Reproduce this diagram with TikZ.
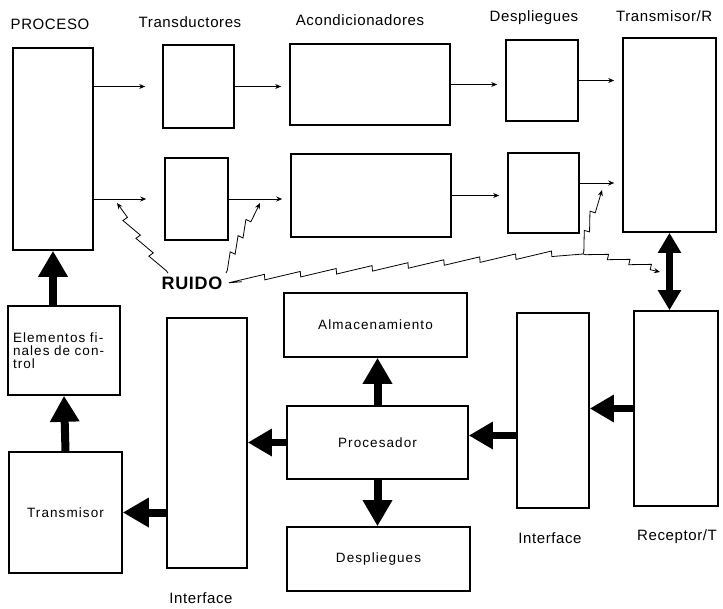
\documentclass[tikz,border=0pt]{standalone}
\usepackage{fontspec}
\setmainfont{Liberation Sans}[LetterSpace=4]
\newfontfamily\boxfamily{Liberation Sans}[LetterSpace=8]
\usepackage{tikz}
\usetikzlibrary{arrows.meta,decorations.pathmorphing}
\newcommand{\lblfont}{\fontsize{15}{17}\selectfont}
\newcommand{\boxfont}{\boxfamily\fontsize{13.5}{12.8}\selectfont}
\newcommand{\noisefont}{\fontsize{18}{20}\selectfont\bfseries}

\begin{document}
\begin{tikzpicture}[x=1pt,y=-1pt,
	box/.style={draw,line width=1.6pt,inner sep=0pt,font=\boxfont},
	lbl/.style={font=\lblfont,inner sep=1pt},
	flow/.style={line width=0.9pt,-{Stealth[length=6pt,width=5pt]},shorten >=8pt},
	bigarrow/.style={line width=8pt,-{Triangle[length=26pt,width=28pt]}},
	noise/.style={line width=0.8pt,decorate,decoration={saw,segment length=#1,amplitude=5.5pt,pre length=3pt,post length=10pt}},
	noise/.default=20pt]
	\useasboundingbox (0,0) rectangle (723,608);
	% top row labels
	\node[lbl] (lproceso) at (50,24) {PROCESO};
	\node[lbl] (ltrans) at (190,22) {Transductores};
	\node[lbl] (lacond) at (360,20) {Acondicionadores};
	\node[lbl] (ldesp) at (534,18) {Despliegues};
	\node[lbl,anchor=west] (ltr) at (615,16) {Transmisor/R};
	% measuring chain
	\node[box,minimum width=80,minimum height=202] (proceso) at (53,149) {};
	\node[box,minimum width=71,minimum height=83] (t1) at (198.5,86.5) {};
	\node[box,minimum width=63,minimum height=82] (t2) at (196.5,199) {};
	\node[box,minimum width=160,minimum height=81] (a1) at (370,84.5) {};
	\node[box,minimum width=160,minimum height=83] (a2) at (371,195.5) {};
	\node[box,minimum width=72,minimum height=81] (d1) at (542,80.5) {};
	\node[box,minimum width=71,minimum height=80] (d2) at (543.5,193) {};
	\node[box,minimum width=93,minimum height=194] (tr) at (669.5,135) {};
	% control side
	\node[box,minimum width=112,minimum height=89,text width=102pt,align=left] (elem) at (64,350.5) {Elementos fi-\\nales de con-\\trol};
	\node[box,minimum width=113,minimum height=121] (tx) at (65.5,512.5) {Transmisor\hspace{12pt}};
	\node[box,minimum width=80,minimum height=250] (ifl) at (207,443) {};
	\node[box,minimum width=183,minimum height=64] (alm) at (375.5,325) {Almacenamiento\hspace{24pt}};
	\node[box,minimum width=181,minimum height=73] (proc) at (377.5,442.5) {Procesador\hspace{20pt}};
	\node[box,minimum width=183,minimum height=64] (desp) at (378.5,559) {Despliegues\hspace{14pt}};
	\node[box,minimum width=72,minimum height=195] (ifr) at (553,410.5) {};
	\node[box,minimum width=84,minimum height=195] (rec) at (676,408.5) {};
	\node[lbl] (lifl) at (201,598) {Interface};
	\node[lbl] (lifr) at (550,538) {Interface};
	\node[lbl,anchor=west] (lrec) at (636,537) {Receptor/T};
	% noise
	\node[font=\noisefont] (ruido) at (192,283) {RUIDO};
	\coordinate (r1) at (117,203);
	\coordinate (r2) at (260,203);
	\coordinate (rb) at (583,254);
	\coordinate (r3) at (660,272);
	\coordinate (r4) at (602,190);

	\path[flow]
	(t1.west -| proceso.east) edge [shorten >=17pt] (t1.west)
	(t2.west -| proceso.east) edge [shorten >=18pt] (t2.west)
	(t1.east) edge (t1.east -| a1.west)
	(t2.east) edge (t2.east -| a2.west)
	(a1.east) edge (a1.east -| d1.west)
	(a2.east) edge (a2.east -| d2.west)
	(d1.east) edge (d1.east -| tr.west)
	([yshift=10pt]d2.east) edge ([yshift=10pt]d2.east -| tr.west);

	\draw[bigarrow] (elem.north -| proceso.south) -- (proceso.south);
	\draw[bigarrow] (tx.north) -- (elem.south);
	\draw[bigarrow] (ifl.west |- tx.east) -- (tx.east);
	\draw[bigarrow,line width=7pt,-{Triangle[length=24pt,width=26pt]}] (proc.west) -- (proc.west -| ifl.east);
	\draw[bigarrow] (proc.north) -- (proc.north |- alm.south);
	\draw[bigarrow] (proc.south) -- (proc.south |- desp.north);
	\draw[bigarrow,line width=7pt,-{Triangle[length=24pt,width=26pt]}] (rec.west) -- (rec.west -| ifr.east);
	\draw[bigarrow,line width=7pt,-{Triangle[length=24pt,width=26pt]}] ([yshift=-25pt]ifr.west) -- ([yshift=-25pt]ifr.west -| proc.east);
	\draw[line width=7pt,{Triangle[length=20pt,width=22pt]}-{Triangle[length=20pt,width=22pt]}] (tr.south) -- (tr.south |- rec.north);

	\draw[noise=22pt,-{Stealth[length=6pt,width=5pt]}] ([xshift=10pt]ruido.north west) -- (r1);
	\draw[noise=18pt,-{Stealth[length=6pt,width=5pt]}] (ruido.north east) -- (r2);
	\draw[noise=36pt,shorten <=16pt] (ruido.east) -- (rb);
	\draw[noise=22pt,-{Stealth[length=6pt,width=5pt]}] (rb) -- (r3);
	\draw[noise=20pt,-{Stealth[length=6pt,width=5pt]}] (rb) -- (r4);
\end{tikzpicture}
\end{document}
